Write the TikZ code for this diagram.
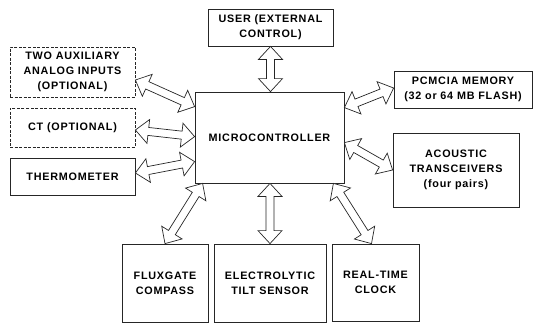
\documentclass[tikz,border=0pt]{standalone}
\usepackage{fontspec}
\setmainfont{Liberation Sans}[LetterSpace=7]
\usetikzlibrary{calc}

% hollow double-headed block arrow between two points
\newcommand\hlen{13pt}
\newcommand\hwid{12pt}
\newcommand\swid{4pt}
\newcommand\twoway[2]{%
  \coordinate (ta) at (#1);
  \coordinate (tb) at (#2);
  \coordinate (ha) at ($(ta)!\hlen!(tb)$);
  \coordinate (hb) at ($(tb)!\hlen!(ta)$);
  \draw[arrowbody] (ta) -- ($(ha)!\hwid!90:(tb)$) -- ($(ha)!\swid!90:(tb)$)
    -- ($(hb)!\swid!-90:(ta)$) -- ($(hb)!\hwid!-90:(ta)$) -- (tb)
    -- ($(hb)!\hwid!90:(ta)$) -- ($(hb)!\swid!90:(ta)$)
    -- ($(ha)!\swid!-90:(tb)$) -- ($(ha)!\hwid!-90:(tb)$) -- cycle;
}

\begin{document}
\begin{tikzpicture}[x=1pt,y=-1pt,
  block/.style={draw=black!85, line width=0.8pt, align=center, inner sep=0pt,
    font=\fontsize{10.8}{15}\selectfont\bfseries},
  optblock/.style={block, dash pattern=on 3pt off 1.5pt},
  arrowbody/.style={draw=black!85, line width=0.7pt, fill=white, line join=miter}]
\useasboundingbox (0,0) rectangle (533,324);

% blocks
\node[block, minimum width=125pt, minimum height=37pt] (user) at (270.5,27.5) {USER (EXTERNAL\\CONTROL)};
\node[optblock, minimum width=125pt, minimum height=50pt] (aux) at (72.5,72) {TWO AUXILIARY\\ANALOG INPUTS\\(OPTIONAL)};
\node[optblock, minimum width=125pt, minimum height=39pt] (ct) at (72.5,127.5) {CT (OPTIONAL)};
\node[block, minimum width=125pt, minimum height=37pt] (thermo) at (72.5,176.5) {THERMOMETER};
\node[block, minimum width=149pt, minimum height=91pt] (mc) at (269.5,137.5) {MICROCONTROLLER};
\node[block, minimum width=138pt, minimum height=37pt] (pcm) at (463,89.5) {PCMCIA MEMORY\\(32 or 64 MB FLASH)};
\node[block, minimum width=126pt, minimum height=74pt] (ac) at (456,170) {ACOUSTIC\\TRANSCEIVERS\\(four pairs)};
\node[block, minimum width=86pt, minimum height=78pt] (flux) at (165,283) {FLUXGATE\\COMPASS};
\node[block, minimum width=112pt, minimum height=78pt] (elec) at (270,283) {ELECTROLYTIC\\TILT SENSOR};
\node[block, minimum width=87pt, minimum height=77pt] (rt) at (375.5,282.5) {REAL-TIME\\CLOCK};

% links to the microcontroller
\twoway{user.south}{user.south |- mc.north}
\twoway{$(aux.east)+(0,8)$}{$(mc.north west)+(0,15)$}
\twoway{$(ct.east)+(0,2.5)$}{$(mc.north west)+(0,45)$}
\twoway{$(thermo.east)+(0,-3.5)$}{$(mc.north west)+(0,70)$}
\twoway{$(mc.south west)+(8,0)$}{flux.north}
\twoway{elec.north |- mc.south}{elec.north}
\twoway{$(mc.south east)+(-11,0)$}{$(rt.north)+(-4,0)$}
\twoway{$(mc.north east)+(0,16)$}{$(pcm.west)+(0,-1.5)$}
\twoway{$(mc.north east)+(0,51)$}{ac.west}
\end{tikzpicture}
\end{document}
